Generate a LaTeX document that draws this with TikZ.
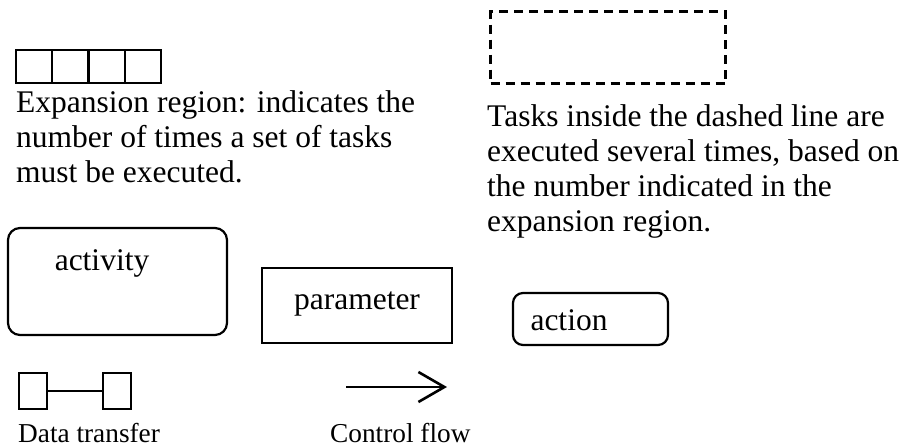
\documentclass[tikz,border=0pt]{standalone}
\usepackage{fontspec}
\setmainfont{Liberation Serif}
\usetikzlibrary{arrows.meta,calc}

\tikzset{
  txt/.style={font=\fontsize{31.5}{35}\selectfont, inner sep=0pt, align=left},
  lbl/.style={font=\fontsize{31.5}{35}\selectfont, inner sep=0pt},
  small/.style={font=\fontsize{27.3}{31}\selectfont, inner sep=0pt},
  cell/.style={draw, line width=2.2pt, minimum width=36.25pt, minimum height=33pt,
               inner sep=0pt, outer sep=0pt, anchor=north west},
  roundbox/.style={draw, line width=2.2pt, rounded corners=12pt, inner sep=0pt},
  sharpbox/.style={draw, line width=2.4pt, inner sep=0pt},
  pin/.style={draw, line width=2pt, minimum width=28pt, minimum height=36pt,
              inner sep=0pt, anchor=north west},
  flow/.style={line width=2.6pt, -{Straight Barb[length=26pt, width=30pt, line width=2.6pt]}},
}

\begin{document}
\begin{tikzpicture}[x=1pt, y=-1pt]
  \useasboundingbox (0,0) rectangle (908,447);

  % expansion region: four cells in a row
  \node[cell] (e1) at (16,50) {};
  \node[cell] (e2) at (e1.north east) {};
  \node[cell] (e3) at (e2.north east) {};
  \node[cell] (e4) at (e3.north east) {};

  \node[txt, anchor=north west] (exptext) at (16,90)
    {Expansion region: indicates the\\number of times a set of tasks\\must be executed.};

  % dashed region of repeated tasks
  \node[draw, dashed, dash pattern=on 9pt off 6pt, line width=3pt,
        minimum width=235pt, minimum height=72pt, inner sep=0pt, anchor=north west]
        (dashbox) at (489,10) {};

  \node[txt, anchor=north west] (dashtext) at (487,104.5)
    {Tasks inside the dashed line are\\executed several times, based on\\the number indicated in the\\expansion region.};

  % activity, parameter and action
  \node[roundbox, minimum width=219pt, minimum height=107pt] (activity) at (117.5,281.5) {};
  \node[lbl, anchor=base] (activitylbl) at (102,270) {activity};

  \node[sharpbox, minimum width=190pt, minimum height=75pt] (parameter) at (357,305.5) {};
  \node[lbl, anchor=base] (parameterlbl) at (357,309) {parameter};

  \node[roundbox, rounded corners=10pt, minimum width=155pt, minimum height=52pt] (action) at (590.5,319) {};
  \node[lbl, anchor=base] (actionlbl) at (569,330) {action};

  % data transfer between two pins
  \node[pin] (pinA) at (18,372) {};
  \node[pin] (pinB) at (102,372) {};
  \draw[line width=2pt] (pinA.east) -- (pinB.west);
  \node[small, anchor=base west] (dtlbl) at (18,442) {Data transfer};

  % control flow
  \coordinate (cfA) at (346,387);
  \coordinate (cfB) at (447,387);
  \draw[flow] (cfA) -- (cfB);
  \node[small, anchor=base west] (cflbl) at (330,442) {Control flow};
\end{tikzpicture}
\end{document}
